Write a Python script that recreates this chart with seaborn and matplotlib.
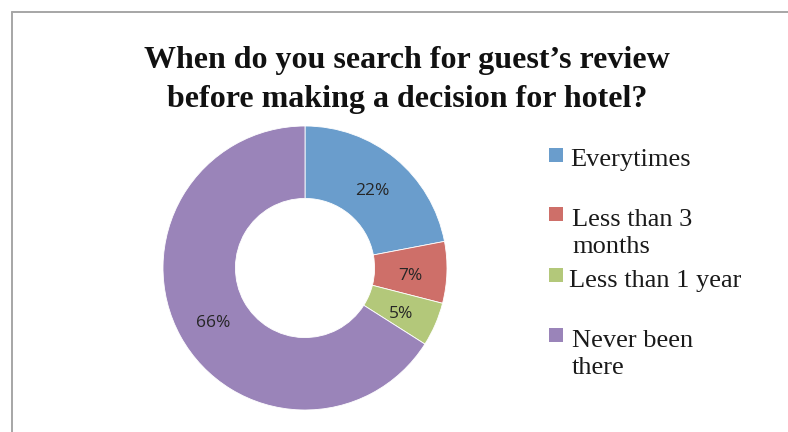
import matplotlib
matplotlib.use("Agg")
import matplotlib.pyplot as plt
from matplotlib.patches import Rectangle
from matplotlib.lines import Line2D
import seaborn as sns

categories = ["Everytimes", "Less than 3\nmonths", "Less than 1 year", "Never been\nthere"]
shares = [22, 7, 5, 66]
colors = ["#6A9DCC", "#CE6F69", "#B3C87A", "#9A84B9"]
title = "When do you search for guest\u2019s review\nbefore making a decision for hotel?"

sns.set_theme(style="white")
W, H = 788, 432
fig = plt.figure(figsize=(W / 100, H / 100), dpi=100)
fig.patch.set_facecolor("white")

# outer frame (left and top edges)
fig.add_artist(Line2D([12 / W, 12 / W], [0, 1 - 12 / H], color="#A6A6A6", lw=1.4,
                      transform=fig.transFigure))
fig.add_artist(Line2D([12 / W, 1], [1 - 12 / H, 1 - 12 / H], color="#A6A6A6", lw=1.4,
                      transform=fig.transFigure))

# donut
cx, cy, r = 305, 268, 142
ax = fig.add_axes([(cx - r) / W, 1 - (cy + r) / H, 2 * r / W, 2 * r / H])
wedges, texts, autotexts = ax.pie(
    shares, colors=colors, startangle=90, counterclock=False, radius=1.0,
    autopct=lambda p: f"{p:.0f}%", pctdistance=0.74,
    wedgeprops=dict(width=0.51, edgecolor="white", linewidth=0.6),
    textprops=dict(fontsize=12.5, color="#262626", family="Open Sans"),
)
for t in autotexts:
    x, y = t.get_position()
    t.set_position((x, y - 0.03))
ax.set_xlim(-1, 1)
ax.set_ylim(-1, 1)
ax.set_aspect("equal")
ax.axis("off")

fig.text(407 / W, 1 - 80 / H, title, ha="center", va="center", fontsize=23,
         fontweight="bold", family="Liberation Serif", color="#111111",
         linespacing=1.42)

# legend
box_tops = [148, 207, 268, 328]
text_tops = [149, 209, 270, 330]
text_x = [570, 572, 569, 572]
for lab, col, bt, tt, tx in zip(categories, colors, box_tops, text_tops, text_x):
    fig.add_artist(Rectangle((549 / W, 1 - (bt + 14) / H), 14 / W, 14 / H,
                             facecolor=col, edgecolor="none",
                             transform=fig.transFigure))
    fig.text(tx / W, 1 - tt / H, lab, ha="left", va="top", fontsize=19,
             family="Liberation Serif", color="#1A1A1A", linespacing=1.32)

fig.savefig("out.png", dpi=100, facecolor="white")
